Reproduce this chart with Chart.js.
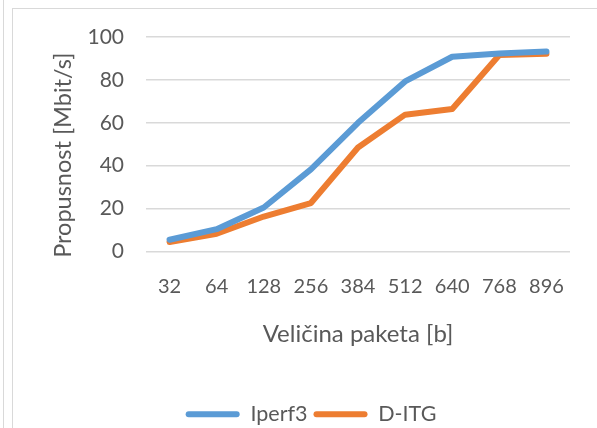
<!DOCTYPE html>
<html>
<head>
<meta charset="utf-8">
<script src="https://cdn.jsdelivr.net/npm/chart.js@4/dist/chart.umd.min.js"></script>
<style>
  html, body { margin: 0; padding: 0; background: #ffffff; }
  #wrap { width: 597px; height: 428px; position: relative; }
</style>
</head>
<body>
<div id="wrap"><canvas id="throughput_chart"></canvas></div>
<script>
// velicina paketa [b]
const packet_sizes = ["32", "64", "128", "256", "384", "512", "640", "768", "896"];

// propusnost [Mbit/s]
const iperf3_values = [5.5, 10.4, 20.5, 38.3, 60.0, 79.3, 90.8, 92.3, 93.2];
const ditg_values = [4.4, 8.3, 16.3, 22.6, 48.5, 63.8, 66.4, 91.6, 92.2];

const y_ticks = [0, 20, 40, 60, 80, 100];

const textColor = '#595959';
const gridColor = '#d9d9d9';
const fontFamily = 'Lato, "Open Sans", sans-serif';

// okvir grafa kao u Excelu
const frame_plugin = {
    id: 'frame_plugin',
    beforeDraw(chart){
        const ctx = chart.ctx;
        ctx.save();
        ctx.fillStyle = '#ffffff';
        ctx.fillRect(0, 0, chart.width, chart.height);
        ctx.strokeStyle = gridColor;
        ctx.lineWidth = 1;
        ctx.beginPath();
        ctx.moveTo(3.5, 0);
        ctx.lineTo(3.5, chart.height);
        ctx.stroke();
        ctx.strokeRect(12.5, 8.5, chart.width, chart.height);
        ctx.restore();
    }
};

// Excel ne centrira naslov osi i legendu isto kao Chart.js
const nudge_plugin = {
    id: 'nudge_plugin',
    afterLayout(chart){
        const y = chart.scales.y;
        y.top += 11;
        y.bottom += 11;
        const legend = chart.legend;
        legend.left += 20;
        legend.right += 20;
        legend.top += 7;
        legend.bottom += 7;
    }
};

new Chart(throughput_chart, {

    type: 'line',
    data: {
        labels: packet_sizes,
        datasets: [
            {
                label: 'Iperf3',
                data: iperf3_values,
                borderColor: '#5b9bd5',
                backgroundColor: '#5b9bd5',
                borderWidth: 6,
                pointRadius: 0,
                borderCapStyle: 'round',
                borderJoinStyle: 'round',
                fill: false
            },
            {
                label: 'D-ITG',
                data: ditg_values,
                borderColor: '#ed7d31',
                backgroundColor: '#ed7d31',
                borderWidth: 6,
                pointRadius: 0,
                borderCapStyle: 'round',
                borderJoinStyle: 'round',
                fill: false
            }
        ]
    },
    options: {
        responsive: true,
        maintainAspectRatio: false,
        animation: false,
        layout: { padding: { left: 12, right: 27, top: 37, bottom: 0 } },
        plugins: {
            tooltip: { enabled: false },
            legend: {
                position: 'bottom',
                labels: {
                    color: textColor,
                    font: { family: fontFamily, size: 21.5 },
                    boxWidth: 54,
                    boxHeight: 6,
                    padding: 6,
                    useBorderRadius: true,
                    borderRadius: 3,
                    generateLabels(chart){
                        const items = Chart.defaults.plugins.legend.labels.generateLabels(chart);
                        items.forEach(item => { item.lineWidth = 0; });
                        return items;
                    }
                }
            }
        },
        scales: {
            x: {
                offset: true,
                grid: { display: false, drawTicks: false },
                border: { display: false },
                ticks: {
                    color: textColor,
                    font: { family: fontFamily, size: 20 },
                    padding: 23,
                    maxRotation: 0,
                    autoSkip: false
                },
                title: {
                    display: true,
                    text: 'Veličina paketa [b]',
                    color: textColor,
                    font: { family: fontFamily, size: 24 },
                    padding: { top: 0, bottom: 42 }
                },
                afterFit(scale){ scale.height = 139; }
            },
            y: {
                min: 0,
                max: 100,
                afterBuildTicks(scale){ scale.ticks = y_ticks.map(v => ({ value: v })); },
                grid: { color: gridColor, lineWidth: 1.5, drawTicks: false },
                border: { display: false },
                ticks: {
                    color: textColor,
                    font: { family: fontFamily, size: 21 },
                    padding: 22
                },
                title: {
                    display: true,
                    text: 'Propusnost [Mbit/s]',
                    color: textColor,
                    font: { family: fontFamily, size: 23.5 },
                    padding: { top: 37, bottom: 0 }
                },
                afterFit(scale){ scale.width = 134; }
            }
        }
    },
    plugins: [frame_plugin, nudge_plugin]

});
</script>
</body>
</html>
